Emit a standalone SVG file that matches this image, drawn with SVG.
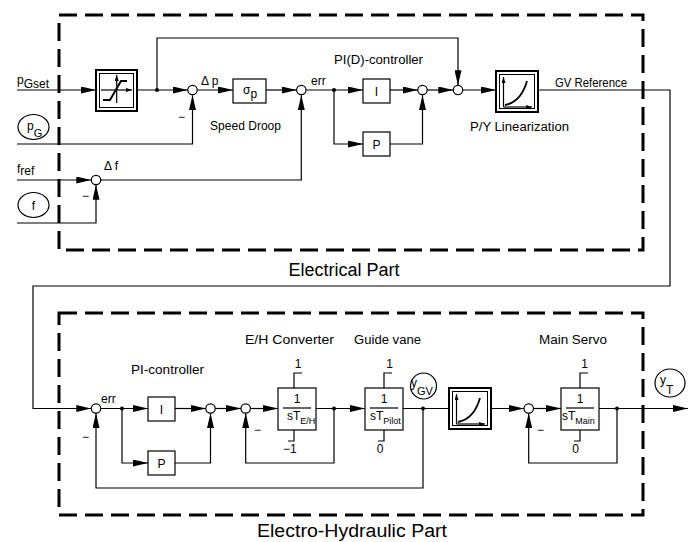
<svg xmlns="http://www.w3.org/2000/svg" width="696" height="542" viewBox="0 0 696 542">
<style>
.ln{fill:none;stroke:#000;stroke-width:1.2}
.ar{marker-end:url(#ah)}
.bx{fill:#fff;stroke:#000;stroke-width:1.2}
.sum{fill:#fff;stroke:#000;stroke-width:1.2}
.dot{fill:#000}
.dash{fill:none;stroke:#000;stroke-width:3;stroke-dasharray:18 8}
.t{font-family:"Liberation Sans",Arial,sans-serif;font-size:12px;fill:#000}
.big{font-size:18px}
.c{text-anchor:middle}
.icon{fill:none;stroke:#000}
</style>
<defs>
<marker id="ah" markerUnits="userSpaceOnUse" markerWidth="15" markerHeight="7" refX="15" refY="3.5" orient="auto"><path d="M0,0L15,3.5L0,7z" fill="#000"/></marker>
<marker id="sa" markerUnits="userSpaceOnUse" markerWidth="6" markerHeight="4" refX="6" refY="2" orient="auto"><path d="M0,0L6,2L0,4z" fill="#000"/></marker>
<g id="pyicon">
<rect x="0" y="0" width="42" height="41" fill="#fff" stroke="#000" stroke-width="2"/>
<rect x="3.5" y="3.5" width="35" height="34" fill="none" stroke="#000" stroke-width="1"/>
<path d="M7.5,36V6" class="icon" stroke-width="1.2" marker-end="url(#sa)"/>
<path d="M7.5,36H36" class="icon" stroke-width="1.2" marker-end="url(#sa)"/>
<path d="M9,34Q25,31 31,10" class="icon" stroke-width="1.8"/>
</g>
</defs>
<rect width="696" height="542" fill="#fff"/>

<g id="frames">
<rect class="dash" x="59" y="15" width="584" height="235"/>
<rect class="dash" x="59" y="313" width="584" height="202"/>
<text class="t big c" x="344" y="276">Electrical Part</text>
<text class="t big" x="257" y="537" textLength="190" lengthAdjust="spacingAndGlyphs">Electro-Hydraulic Part</text>
</g>

<g id="connectors">
<path class="ln ar" d="M17,90H96"/>
<path class="ln ar" d="M137,90H187.8"/>
<path class="ln ar" d="M157,90V38H458V85.3"/>
<path class="ln ar" d="M17,144H192.5V95.2"/>
<path class="ln ar" d="M197.2,90H233"/>
<path class="ln ar" d="M266,90H296.6"/>
<path class="ln ar" d="M306,90H363"/>
<path class="ln ar" d="M334,90V144H363"/>
<path class="ln ar" d="M390,90H417.8"/>
<path class="ln ar" d="M390,144H422.5V95.2"/>
<path class="ln ar" d="M427.2,90H453.3"/>
<path class="ln ar" d="M462.7,90H496"/>
<path class="ln ar" d="M538,90H670V286H33V408.5H91.3"/>
<path class="ln ar" d="M17,180H91.3"/>
<path class="ln ar" d="M17,223H96V184.7"/>
<path class="ln ar" d="M100.7,180H301.3V95.2"/>

<path class="ln ar" d="M100.7,408.5H148"/>
<path class="ln ar" d="M122,408.5V463H148"/>
<path class="ln ar" d="M175,408.5H205.8"/>
<path class="ln ar" d="M175,463H210.5V413.2"/>
<path class="ln ar" d="M215.2,408.5H241"/>
<path class="ln ar" d="M250.4,408.5H278"/>
<path class="ln ar" d="M316,408.5H365"/>
<path class="ln ar" d="M334,408.5V463H245.7V413.2"/>
<path class="ln" d="M403,408.5H449"/>
<path class="ln ar" d="M423,408.5V488H96V413.2"/>
<path class="ln ar" d="M491,408.5H524"/>
<path class="ln ar" d="M533.4,408.5H561"/>
<path class="ln ar" d="M599,408.5H688"/>
<path class="ln ar" d="M617,408.5V463H528.7V413.2"/>

<circle class="dot" cx="157" cy="90" r="2"/>
<circle class="dot" cx="334" cy="90" r="2"/>
<circle class="dot" cx="122" cy="408.5" r="2"/>
<circle class="dot" cx="334" cy="408.5" r="2"/>
<circle class="dot" cx="423" cy="408.5" r="2"/>
<circle class="dot" cx="617" cy="408.5" r="2"/>
</g>

<g id="inputs">
<text class="t" x="17" y="84" font-size="13">p<tspan font-size="12" dy="4">Gset</tspan></text>
<text class="t" x="17" y="173" font-size="13">f<tspan font-size="12" dy="2">ref</tspan></text>
</g>
<g id="pG">
<ellipse cx="33.5" cy="127" rx="15.5" ry="12.5" fill="#fff" stroke="#000" stroke-width="1.2"/>
<text class="t" x="27" y="130" font-size="13">p<tspan font-size="11" dy="7">G</tspan></text>
</g>
<g id="f">
<ellipse cx="33.5" cy="205" rx="15.5" ry="12.5" fill="#fff" stroke="#000" stroke-width="1.2"/>
<text class="t c" x="33.5" y="210" font-size="13">f</text>
</g>

<g id="saturation">
<rect x="96" y="70" width="41" height="41" fill="#fff" stroke="#000" stroke-width="2"/>
<rect x="99.5" y="73.5" width="34" height="34" fill="none" stroke="#000" stroke-width="1"/>
<path d="M101,90H132" class="icon" stroke-width="1.2" marker-end="url(#sa)"/>
<path d="M116.7,103V75" class="icon" stroke-width="1.2" marker-end="url(#sa)"/>
<path d="M103,100H110L121,81H127" class="icon" stroke-width="2"/>
</g>

<g id="sum1"><circle class="sum" cx="192.5" cy="90" r="4.7"/></g>
<g id="sumf"><circle class="sum" cx="96" cy="180" r="4.7"/></g>
<g id="sumerr"><circle class="sum" cx="301.3" cy="90" r="4.7"/></g>
<g id="sumpi"><circle class="sum" cx="422.5" cy="90" r="4.7"/></g>
<g id="sumff"><circle class="sum" cx="458" cy="90" r="4.7"/></g>

<g id="droop">
<rect class="bx" x="233" y="79" width="33" height="24"/>
<text class="t" x="243" y="94" font-size="13">σ<tspan font-size="12" dy="4">p</tspan></text>
</g>
<g id="I1"><rect class="bx" x="363" y="79" width="27" height="24"/><text class="t c" x="376.5" y="96" font-size="13">I</text></g>
<g id="P1"><rect class="bx" x="363" y="132" width="27" height="24"/><text class="t c" x="376.5" y="149" font-size="13">P</text></g>
<g id="pylin"><use href="#pyicon" x="496" y="71"/></g>

<g id="labels-top">
<text class="t" x="201" y="85">Δ p</text>
<text class="t" x="104" y="170">Δ f</text>
<text class="t" x="311" y="85" font-size="11">err</text>
<text class="t" x="178" y="121">−</text>
<text class="t" x="82" y="200">−</text>
<text class="t" x="210" y="130" textLength="71" lengthAdjust="spacingAndGlyphs">Speed Droop</text>
<text class="t" x="334" y="64" textLength="89" lengthAdjust="spacingAndGlyphs">PI(D)-controller</text>
<text class="t" x="555" y="87" textLength="72" lengthAdjust="spacingAndGlyphs">GV Reference</text>
<text class="t" x="470" y="131" textLength="99" lengthAdjust="spacingAndGlyphs">P/Y Linearization</text>
</g>

<g id="sumL1"><circle class="sum" cx="96" cy="408.5" r="4.7"/></g>
<g id="sumL2"><circle class="sum" cx="210.5" cy="408.5" r="4.7"/></g>
<g id="sumL3"><circle class="sum" cx="245.7" cy="408.5" r="4.7"/></g>
<g id="sumL4"><circle class="sum" cx="528.7" cy="408.5" r="4.7"/></g>

<g id="I2"><rect class="bx" x="148" y="397" width="27" height="24"/><text class="t c" x="161.5" y="414" font-size="13">I</text></g>
<g id="P2"><rect class="bx" x="148" y="451" width="27" height="24"/><text class="t c" x="161.5" y="468" font-size="13">P</text></g>

<g id="EH">
<rect class="bx" x="278" y="388" width="38" height="42"/>
<text class="t c" x="297" y="403">1</text>
<path class="ln" d="M283,408H311"/>
<text class="t" x="287" y="420" font-size="11">sT<tspan font-size="9" dy="4">E/H</tspan></text>
<path class="ln" d="M294,388V373H302M294,430V441H288"/>
<text class="t c" x="298" y="368">1</text>
<text class="t" x="283" y="453">−1</text>
</g>
<g id="guide">
<rect class="bx" x="365" y="388" width="38" height="42"/>
<text class="t c" x="384" y="403">1</text>
<path class="ln" d="M370,408H398"/>
<text class="t" x="370" y="420" font-size="11">sT<tspan font-size="9" dy="4">Pilot</tspan></text>
<path class="ln" d="M384,388V373H392M384,430V441H378"/>
<text class="t c" x="389.5" y="368">1</text>
<text class="t c" x="380" y="453">0</text>
</g>
<g id="lin2"><use href="#pyicon" x="449" y="388"/></g>
<g id="main">
<rect class="bx" x="561" y="388" width="38" height="42"/>
<text class="t c" x="580" y="403">1</text>
<path class="ln" d="M566,408H594"/>
<text class="t" x="562" y="420" font-size="11">sT<tspan font-size="9" dy="4">Main</tspan></text>
<path class="ln" d="M580,388V373H588M580,430V441H574"/>
<text class="t c" x="584.5" y="368">1</text>
<text class="t c" x="575.5" y="453">0</text>
</g>
<g id="yGV">
<circle cx="423.5" cy="386" r="13" fill="#fff" stroke="#000" stroke-width="1.2"/>
<text class="t" x="411" y="387" font-size="12">y<tspan font-size="11" dy="8">GV</tspan></text>
</g>
<g id="yT">
<ellipse cx="670" cy="383" rx="15" ry="14" fill="#fff" stroke="#000" stroke-width="1.2"/>
<text class="t" x="660" y="384" font-size="13">y<tspan font-size="12" dy="10">T</tspan></text>
</g>

<g id="labels-bottom">
<text class="t" x="101" y="403" font-size="11">err</text>
<text class="t" x="131" y="374" textLength="73" lengthAdjust="spacingAndGlyphs">PI-controller</text>
<text class="t" x="245" y="344" textLength="89" lengthAdjust="spacingAndGlyphs">E/H Converter</text>
<text class="t" x="354" y="344" textLength="67" lengthAdjust="spacingAndGlyphs">Guide vane</text>
<text class="t" x="539" y="344" textLength="68" lengthAdjust="spacingAndGlyphs">Main Servo</text>
<text class="t" x="82" y="441">−</text>
<text class="t" x="254" y="434">−</text>
<text class="t" x="537" y="434">−</text>
</g>
</svg>
